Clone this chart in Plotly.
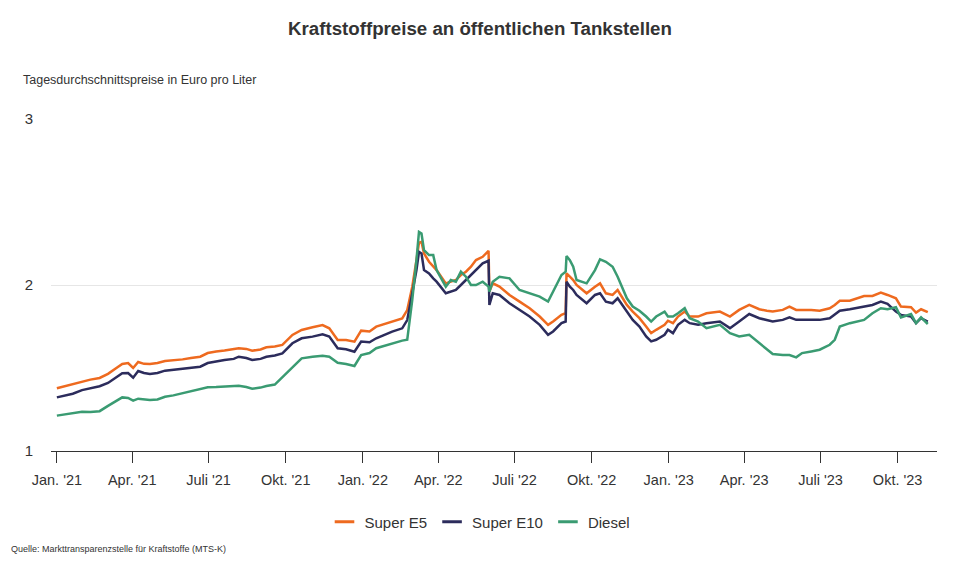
import plotly.graph_objects as go

dates = [
    "2021-01-01","2021-01-10","2021-01-20","2021-01-31","2021-02-10","2021-02-21","2021-03-03","2021-03-13",
    "2021-03-20","2021-03-27","2021-04-02","2021-04-08","2021-04-15","2021-04-22","2021-05-01","2021-05-10",
    "2021-05-20","2021-05-31","2021-06-10","2021-06-21","2021-06-30","2021-07-10","2021-07-20","2021-07-31",
    "2021-08-06","2021-08-15","2021-08-22","2021-09-01","2021-09-08","2021-09-18","2021-09-27","2021-10-09",
    "2021-10-20","2021-11-02","2021-11-14","2021-11-22","2021-12-02","2021-12-12","2021-12-22","2021-12-30",
    "2022-01-09","2022-01-17","2022-01-27","2022-02-05","2022-02-17","2022-02-23","2022-03-01","2022-03-06",
    "2022-03-09","2022-03-12","2022-03-15","2022-03-21","2022-03-26","2022-03-30","2022-04-10","2022-04-16",
    "2022-04-22","2022-04-28","2022-05-04","2022-05-10","2022-05-16","2022-05-24","2022-05-31","2022-06-01",
    "2022-06-05","2022-06-13","2022-06-25","2022-07-07","2022-07-19","2022-07-31","2022-08-10","2022-08-16",
    "2022-08-26","2022-08-31","2022-09-01","2022-09-05","2022-09-09","2022-09-13","2022-09-25","2022-10-05",
    "2022-10-11","2022-10-18","2022-10-26","2022-11-01","2022-11-12","2022-11-19","2022-11-27","2022-12-05",
    "2022-12-11","2022-12-17","2022-12-27","2022-12-31",
    "2023-01-06","2023-01-12","2023-01-20","2023-01-26","2023-02-05","2023-02-15","2023-03-03","2023-03-15",
    "2023-03-26","2023-04-07","2023-04-19","2023-04-28","2023-05-05","2023-05-17","2023-05-25","2023-06-02",
    "2023-06-09","2023-06-20","2023-06-30","2023-07-12","2023-07-18","2023-07-24","2023-08-05","2023-08-22",
    "2023-09-01","2023-09-11","2023-09-19","2023-09-29","2023-10-05","2023-10-17","2023-10-23","2023-10-29",
    "2023-11-06",
]

super_e5 = [
    1.378,1.39,1.40,1.417,1.43,1.44,1.465,1.50,1.524,1.53,1.50,1.536,1.525,1.524,1.53,1.542,1.545,1.552,1.56,1.568,
    1.59,1.60,1.605,1.612,1.619,1.615,1.604,1.612,1.625,1.63,1.639,1.699,1.729,1.745,1.759,1.739,1.669,1.669,1.659,1.725,
    1.72,1.749,1.765,1.783,1.799,1.849,1.99,2.15,2.255,2.26,2.19,2.14,2.11,2.09,2.01,2.02,2.03,2.06,2.08,2.11,
    2.15,2.17,2.206,1.96,2.01,1.99,1.94,1.90,1.86,1.81,1.76,1.78,1.82,1.83,2.07,2.05,2.03,2.00,1.95,1.99,
    2.01,1.95,1.94,1.97,1.88,1.84,1.80,1.75,1.71,1.73,1.76,1.785,
    1.77,1.81,1.84,1.81,1.81,1.83,1.84,1.81,1.85,1.88,1.854,1.845,1.84,1.85,1.87,1.85,1.85,1.85,1.845,1.86,
    1.88,1.905,1.905,1.934,1.934,1.954,1.94,1.92,1.87,1.866,1.834,1.854,1.836,
]

super_e10 = [
    1.323,1.335,1.345,1.367,1.38,1.39,1.41,1.445,1.468,1.47,1.442,1.482,1.47,1.464,1.47,1.484,1.49,1.498,1.502,1.508,
    1.53,1.54,1.548,1.555,1.568,1.56,1.548,1.555,1.568,1.575,1.588,1.649,1.679,1.689,1.703,1.689,1.619,1.613,1.598,1.659,
    1.655,1.679,1.70,1.719,1.739,1.789,1.95,2.09,2.20,2.19,2.09,2.07,2.04,2.02,1.95,1.96,1.97,2.00,2.03,2.06,
    2.09,2.13,2.146,1.88,1.95,1.94,1.89,1.85,1.81,1.76,1.70,1.72,1.77,1.78,2.02,1.99,1.97,1.94,1.89,1.94,
    1.95,1.90,1.89,1.92,1.84,1.79,1.75,1.69,1.66,1.67,1.70,1.73,
    1.71,1.76,1.79,1.77,1.76,1.77,1.78,1.74,1.78,1.825,1.80,1.79,1.78,1.79,1.805,1.79,1.79,1.79,1.79,1.80,
    1.82,1.845,1.854,1.873,1.88,1.90,1.886,1.84,1.82,1.81,1.77,1.80,1.78,
]

diesel = [
    1.213,1.22,1.228,1.237,1.235,1.24,1.272,1.30,1.323,1.32,1.303,1.315,1.31,1.307,1.31,1.327,1.335,1.347,1.36,1.371,
    1.384,1.385,1.387,1.39,1.393,1.385,1.375,1.382,1.392,1.40,1.444,1.508,1.558,1.568,1.574,1.568,1.532,1.524,1.512,1.578,
    1.59,1.619,1.635,1.649,1.665,1.67,1.91,2.15,2.32,2.31,2.21,2.18,2.18,2.09,1.99,2.03,2.02,2.08,2.05,2.00,
    2.00,2.02,1.99,1.96,2.02,2.05,2.04,1.97,1.95,1.93,1.90,1.96,2.06,2.08,2.175,2.15,2.11,2.03,2.01,2.09,
    2.155,2.14,2.11,2.05,1.92,1.87,1.845,1.81,1.78,1.81,1.84,1.81,
    1.81,1.83,1.86,1.80,1.78,1.74,1.76,1.71,1.69,1.70,1.65,1.61,1.584,1.578,1.578,1.564,1.59,1.60,1.61,1.64,
    1.67,1.75,1.77,1.79,1.83,1.86,1.854,1.866,1.805,1.825,1.77,1.805,1.765,
]

tick_dates = ["2021-01-01","2021-04-01","2021-07-01","2021-10-01","2022-01-01","2022-04-01",
              "2022-07-01","2022-10-01","2023-01-01","2023-04-01","2023-07-01","2023-10-01"]
tick_labels = ["Jan. '21","Apr. '21","Juli '21","Okt. '21","Jan. '22","Apr. '22",
               "Juli '22","Okt. '22","Jan. '23","Apr. '23","Juli '23","Okt. '23"]

series = [("Super E5", super_e5, "#ee6a1f"),
          ("Super E10", super_e10, "#2c2c5c"),
          ("Diesel", diesel, "#3a9b72")]

FONT = "Liberation Sans, Arial, Helvetica, sans-serif"
TXT = "#333333"

fig = go.Figure()
for name, vals, col in series:
    fig.add_trace(go.Scatter(x=dates, y=vals, mode="lines", name=name,
                             line=dict(color=col, width=2.5), showlegend=False,
                             legendgroup=name))
for name, vals, col in series:
    fig.add_trace(go.Scatter(x=[None], y=[None], mode="markers", name=name,
                             marker=dict(symbol="line-ew-open", size=14, color=col,
                                         line=dict(color=col, width=3)),
                             legendgroup=name, showlegend=True))

# the page body has an 8px margin, so the figure sits at (8, 8) in the window
OFF = 8
W, H = 960 - OFF, 564 - OFF
L, R, T = 51 - OFF, 23, 119 - OFF
B = H - (451 - OFF)
pw, ph = W - L - R, H - T - B

def px(xp):
    return (xp - OFF - L) / pw

def py(yp):
    return (H - B - (yp - OFF)) / ph

fig.update_layout(
    width=W, height=H,
    margin=dict(l=L, r=R, t=T, b=B),
    paper_bgcolor="white", plot_bgcolor="white",
    font=dict(family=FONT, color=TXT),
    title=dict(text="<b>Kraftstoffpreise an öffentlichen Tankstellen</b>",
               x=(480 - OFF) / W, xanchor="center", xref="container",
               y=1 - (28 - OFF) / H, yanchor="middle", yref="container",
               font=dict(size=18.7, color=TXT, family=FONT)),
    showlegend=True,
    legend=dict(orientation="h", x=px(480), xanchor="center", y=py(522), yanchor="middle",
                font=dict(size=15, color=TXT, family=FONT), itemwidth=30,
                bgcolor="rgba(0,0,0,0)"),
    xaxis=dict(type="date", range=["2020-12-25", "2023-11-17"],
               tickvals=tick_dates, ticktext=tick_labels,
               showgrid=False, zeroline=False,
               showline=True, linecolor="#333333", linewidth=1.3,
               ticks="outside", ticklen=11, tickwidth=1, tickcolor="#333333",
               tickfont=dict(size=14.5, color=TXT, family=FONT),
               ticklabelstandoff=4),
    yaxis=dict(range=[1, 3], tickvals=[1, 2, 3], ticktext=["1", "2", "3"],
               showgrid=True, gridcolor="#e6e6e6", gridwidth=1, zeroline=False,
               showline=False, ticks="",
               tickfont=dict(size=15, color=TXT, family=FONT),
               ticklabelstandoff=17),
    annotations=[
        dict(text="Tagesdurchschnittspreise in Euro pro Liter", xref="paper", yref="paper",
             x=px(21), y=py(80), xanchor="left", yanchor="middle", showarrow=False,
             font=dict(size=12.5, color=TXT, family=FONT)),
        dict(text="Quelle: Markttransparenzstelle für Kraftstoffe (MTS-K)", xref="paper", yref="paper",
             x=px(9), y=py(549), xanchor="left", yanchor="middle", showarrow=False,
             font=dict(size=9, color=TXT, family=FONT)),
    ],
)

fig.write_html("out.html")
